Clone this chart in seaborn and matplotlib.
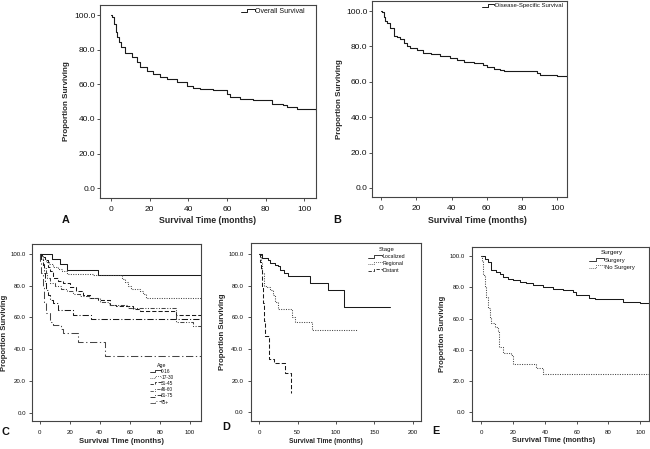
import numpy as np
import pandas as pd
import matplotlib
matplotlib.use("Agg")
import matplotlib.pyplot as plt
import seaborn as sns
from matplotlib.lines import Line2D
from matplotlib.legend_handler import HandlerBase

# ---------------- data ----------------
# Panel A: overall survival
os_t = [0, 0.7, 1.7, 2.4, 3.3, 4.1, 5, 7.2, 10.7, 13.3, 15, 18.4, 21.9, 25.3, 28.8, 34, 39.1,
        42.6, 46, 52.9, 59.8, 61.6, 66.7, 73.6, 80.5, 83.1, 89.1, 90.9, 96, 99.5, 106]
os_v = [100, 98.6, 95, 90, 87.5, 84.5, 81.7, 77.8, 76, 73, 70, 67.8, 66.2, 64.3, 63, 61.4, 59,
        58, 57.5, 56.6, 54.6, 52.7, 51.7, 51.2, 50.8, 48.8, 48.3, 47, 46, 45.6, 44.6]

# Panel B: disease-specific survival
dss_t = [0, 0.4, 1.3, 2.3, 3.2, 5.1, 7, 9, 10.8, 12.7, 14.6, 16.5, 20.3, 24, 28, 33.6, 39, 43,
         47, 52.6, 58, 60, 64, 67.7, 69.6, 88.6, 90.5, 100, 105.7]
dss_v = [100, 99.6, 96.8, 94.5, 93, 90.2, 86, 85.5, 84, 81.7, 80.2, 79.2, 77.9, 76.4, 75.5, 74.7,
         73.6, 72.3, 71.3, 70.9, 69.8, 68.5, 67.5, 66.6, 66, 65, 63.8, 63.4, 62.8]

# Panel C: by age group
age_labels = ["0-16", "17-30", "31-45", "46-60", "61-75", "75+"]
age_0_16_t = [0, 8, 13.5, 18.5, 39, 107.3]
age_0_16_v = [100, 97, 93.7, 90, 87, 87]
age_17_30_t = [0, 1, 2.5, 4, 6, 9, 12, 15, 18, 35.5, 54.5, 57, 59, 61, 66.5, 69, 71, 107.3]
age_17_30_v = [100, 98.5, 97, 95, 93.5, 92, 90.5, 89, 87.5, 86.5, 84, 82.5, 80, 78, 76.5, 75, 72, 72]
age_31_45_t = [0, 1.5, 3.3, 5.6, 6.7, 8.9, 12, 15.5, 20, 24.4, 29, 33.3, 39, 46.7, 51, 62, 67, 91, 107.3]
age_31_45_v = [100, 98, 96, 92, 89, 85, 83, 81.5, 79.5, 76.5, 74.2, 72, 71, 68, 67.4, 65.3, 63.8, 61.7, 61.7]
age_46_60_t = [0, 1, 2, 3, 4, 5, 7, 10, 14, 18, 22, 27, 33, 40, 46, 59, 91, 102, 107.3]
age_46_60_v = [100, 97, 94, 91, 88, 85, 82, 80, 78, 76.5, 75, 73.5, 72, 70, 68, 65.8, 57.4, 54.3, 54.3]
age_61_75_t = [0, 1, 2, 3, 3.8, 4.5, 5.5, 7, 9, 12, 22, 34, 107.3]
age_61_75_v = [100, 97, 93, 88, 82, 77, 74, 71, 69, 64.8, 61.7, 59, 59]
age_75p_t = [0, 0.5, 1, 2, 3, 4, 6.7, 9, 14.4, 15.5, 25.5, 43.5, 107.3]
age_75p_v = [100, 95, 88, 80, 70, 62.6, 57, 55, 53, 50, 44.5, 35.5, 35.5]

# Panel D: by stage
stage_labels = ["Localized", "Regional", "Distant"]
loc_t = [0, 3, 12, 14, 21, 25, 27, 32, 38, 66, 90, 110, 170]
loc_v = [100, 97.5, 96.4, 94.3, 93.3, 92.2, 90, 88, 86.3, 82, 77.5, 66.5, 66.5]
reg_t = [0, 2, 4, 6, 10, 14, 18, 21, 25, 42.5, 47, 68.5, 127]
reg_v = [100, 95, 88, 80, 79, 77.5, 74, 70, 65, 60, 57, 52, 52]
dist_t = [0, 1, 2, 3.5, 5, 6.5, 7, 13, 19, 34, 41]
dist_v = [100, 95, 90, 80, 69, 58, 48, 34, 31, 25, 12]

# Panel E: by surgery
surg_labels = ["Surgery", "No Surgery"]
surg_t = [0, 2, 4.2, 6.3, 9.4, 11.5, 13.6, 16.8, 19.9, 24, 28.3, 32.5, 38.8, 45, 51.4, 57.7,
          59.7, 68, 71.3, 89, 99.6, 105.5]
surg_v = [100, 98.3, 96.2, 90.9, 89.8, 88.3, 86.6, 85.5, 84.5, 83.4, 82.8, 81.7, 80.3, 78.8,
          78.1, 77.1, 74.9, 73.4, 72.4, 70.7, 69.6, 69.6]
nosurg_t = [0, 0.2, 1, 2, 3.1, 4.2, 5.2, 6.3, 8.4, 10.5, 11, 13.6, 18.9, 20, 34.6, 38.8, 105.5]
nosurg_v = [100, 97, 88, 80, 73.9, 67, 61, 56.9, 54.8, 51.6, 42, 37.8, 36.7, 30.8, 28.2, 24.6, 24.6]

y_ticks = [0, 20, 40, 60, 80, 100]
y_tick_labels = ["0.0", "20.0", "40.0", "60.0", "80.0", "100.0"]
x_ticks_100 = [0, 20, 40, 60, 80, 100]
x_ticks_200 = [0, 50, 100, 150, 200]

# ---------------- style ----------------
sns.set_theme(style="ticks")
plt.rcParams["font.family"] = ["Liberation Sans", "DejaVu Sans"]
plt.rcParams["text.color"] = "#111111"

DARK = "#1a1a1a"
GREY = "#454545"

SOLID = "-"
DOT = (0, (1, 1.3))
DASH = (0, (4, 2))
DASHDOTDOT = (0, (4, 1.5, 1, 1.5, 1, 1.5))
DASHDOT = (0, (6, 2, 1, 2))
LONGDASHDOT = (0, (7, 2.5, 1.2, 2.5))


class StepHandler(HandlerBase):
    def create_artists(self, legend, orig_handle, xdescent, ydescent, width, height, fontsize, trans):
        xs = np.array([0.0, 0.45, 0.45, 1.0, 1.0]) * width - xdescent
        ys = np.array([0.2, 0.2, 0.85, 0.85, 0.5]) * height - ydescent
        line = Line2D(xs, ys)
        line.update_from(orig_handle)
        line.set_transform(trans)
        return [line]


fig = plt.figure(figsize=(6.5, 4.49), dpi=100)
fig.patch.set_facecolor("white")


def px_axes(x0, y0, x1, y1):
    W, H = 650.0, 449.0
    return fig.add_axes([x0 / W, 1 - y1 / H, (x1 - x0) / W, (y1 - y0) / H])


def km(ax, t, v, ls, color, lw=0.8):
    df = pd.DataFrame({"t": t, "v": v})
    sns.lineplot(data=df, x="t", y="v", ax=ax, estimator=None, sort=False,
                 drawstyle="steps-post", linestyle=ls, color=color, linewidth=lw)


def setup(ax, xlim, ylim, xticks, tick_fs, xl_fs, yl_fs, xl_coords, yl_coords, ypad, xpad):
    ax.set_xlim(xlim)
    ax.set_ylim(ylim)
    ax.set_xticks(xticks)
    ax.set_xticklabels([str(x) for x in xticks])
    ax.set_yticks(y_ticks)
    ax.set_yticklabels(y_tick_labels)
    ax.tick_params(axis="both", labelsize=tick_fs, length=2.5, width=0.6, colors="#333333",
                   labelcolor="#111111")
    ax.tick_params(axis="y", pad=ypad)
    ax.tick_params(axis="x", pad=xpad)
    for s in ax.spines.values():
        s.set_color("#444444")
        s.set_linewidth(0.8)
        s.set_visible(True)
    ax.set_xlabel("Survival Time (months)", fontsize=xl_fs, fontweight="bold")
    ax.set_ylabel("Proportion Surviving", fontsize=yl_fs, fontweight="bold")
    ax.xaxis.set_label_coords(*xl_coords)
    ax.yaxis.set_label_coords(*yl_coords)
    ax.grid(False)
    ax.set_facecolor("white")


# ---------- Panel A ----------
axA = px_axes(100, 5, 316, 198)
km(axA, os_t, os_v, SOLID, DARK)
setup(axA, (-5.7, 106), (-5.7, 105.8), x_ticks_100, 6, 6.3, 5.8, (0.5, -0.095), (-0.14, 0.5), 0.8, 3.5)
hA = Line2D([], [], color=DARK, linestyle=SOLID, linewidth=0.7)
axA.legend([hA], ["Overall Survival"], handler_map={Line2D: StepHandler()}, loc="upper right",
           bbox_to_anchor=(0.955, 0.99), frameon=False, fontsize=5, handlelength=2.0,
           handletextpad=0.1, borderpad=0.2, borderaxespad=0)

# ---------- Panel B ----------
axB = px_axes(372, 1, 567, 197)
km(axB, dss_t, dss_v, SOLID, DARK)
setup(axB, (-5.3, 105.7), (-5.1, 105.7), x_ticks_100, 6, 6.4, 5.8, (0.54, -0.098), (-0.15, 0.5), 0.8, 3.5)
hB = Line2D([], [], color=DARK, linestyle=SOLID, linewidth=0.7)
axB.legend([hB], ["Disease-Specific Survival"], handler_map={Line2D: StepHandler()}, loc="upper right",
           bbox_to_anchor=(0.985, 0.995), frameon=False, fontsize=4.3, handlelength=2.0,
           handletextpad=0.1, borderpad=0.2, borderaxespad=0)

# ---------- Panel C ----------
axC = px_axes(32, 244, 201, 421)
age_t = [age_0_16_t, age_17_30_t, age_31_45_t, age_46_60_t, age_61_75_t, age_75p_t]
age_v = [age_0_16_v, age_17_30_v, age_31_45_v, age_46_60_v, age_61_75_v, age_75p_v]
age_ls = [SOLID, DOT, DASH, DASHDOTDOT, DASHDOT, LONGDASHDOT]
age_col = [DARK, GREY, DARK, GREY, DARK, GREY]
for t, v, ls, c in zip(age_t, age_v, age_ls, age_col):
    km(axC, t, v, ls, c, lw=0.75)
setup(axC, (-5.1, 107.3), (-5.3, 106.3), x_ticks_100, 4.4, 5.5, 5.5, (0.53, -0.097), (-0.14, 0.5), 2, 4)
hC = [Line2D([], [], color=c, linestyle=ls, linewidth=0.6) for ls, c in zip(age_ls, age_col)]
legC = axC.legend(hC, age_labels, handler_map={Line2D: StepHandler()}, loc="upper left",
                  bbox_to_anchor=(0.70, 0.33), frameon=False, fontsize=3.4, title="Age",
                  title_fontsize=3.8, handlelength=2.2, handletextpad=0.1, labelspacing=0.25,
                  borderpad=0, borderaxespad=0)

# ---------- Panel D ----------
axD = px_axes(251, 243, 421, 421)
stage_t = [loc_t, reg_t, dist_t]
stage_v = [loc_v, reg_v, dist_v]
stage_ls = [SOLID, DOT, DASH]
stage_col = [DARK, GREY, DARK]
for t, v, ls, c in zip(stage_t, stage_v, stage_ls, stage_col):
    km(axD, t, v, ls, c, lw=0.75)
setup(axD, (-10.8, 210.8), (-5.5, 107), x_ticks_200, 4.4, 4.8, 5.6, (0.44, -0.095), (-0.148, 0.5), 3, 4)
hD = [Line2D([], [], color=c, linestyle=ls, linewidth=0.6) for ls, c in zip(stage_ls, stage_col)]
axD.legend(hD, stage_labels, handler_map={Line2D: StepHandler()}, loc="upper left",
           bbox_to_anchor=(0.69, 0.975), frameon=False, fontsize=3.8, title="Stage",
           title_fontsize=4.3, handlelength=2.6, handletextpad=0.1, labelspacing=0.35,
           borderpad=0, borderaxespad=0)

# ---------- Panel E ----------
axE = px_axes(472, 247, 649, 421)
surg_ts = [surg_t, nosurg_t]
surg_vs = [surg_v, nosurg_v]
surg_ls = [SOLID, DOT]
surg_col = [DARK, GREY]
for t, v, ls, c in zip(surg_ts, surg_vs, surg_ls, surg_col):
    km(axE, t, v, ls, c, lw=0.75)
setup(axE, (-5.9, 105.5), (-5.5, 105.7), x_ticks_100, 4.4, 5.4, 5.5, (0.46, -0.09), (-0.148, 0.5), 2.5, 4)
hE = [Line2D([], [], color=c, linestyle=ls, linewidth=0.6) for ls, c in zip(surg_ls, surg_col)]
axE.legend(hE, surg_labels, handler_map={Line2D: StepHandler()}, loc="upper left",
           bbox_to_anchor=(0.66, 0.98), frameon=False, fontsize=4.2, title="Surgery",
           title_fontsize=4.6, handlelength=2.6, handletextpad=0.1, labelspacing=0.35,
           borderpad=0, borderaxespad=0)

# ---------- panel letters ----------
for letter, (x, y) in zip("ABCDE", [(66, 220), (337.5, 220), (5.5, 432), (226, 427), (435.5, 430.5)]):
    fig.text(x / 650, 1 - y / 449, letter, ha="center", va="center", fontsize=7.8,
             fontweight="bold", color="#111111")

fig.savefig("out.png", dpi=100, facecolor="white")
